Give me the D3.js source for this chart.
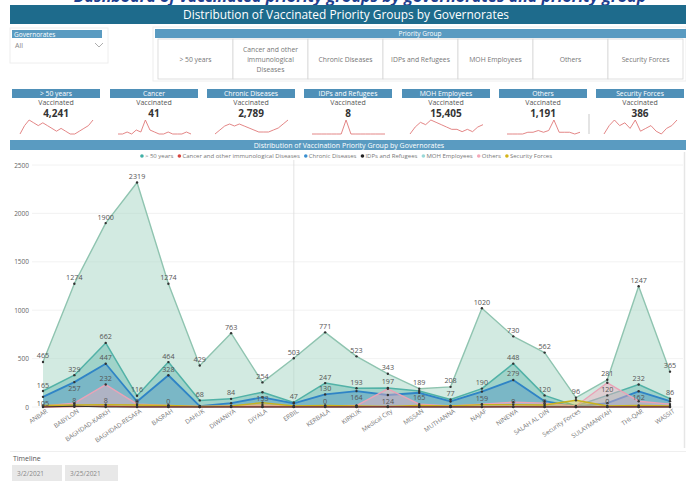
<!DOCTYPE html>
<html>
<head>
<meta charset="utf-8">
<script src="https://cdn.jsdelivr.net/npm/d3@7"></script>
<style>
  body { margin: 0; background: #fff; }
  svg { display: block; font-family: "Open Sans", "Noto Sans", sans-serif; }
</style>
</head>
<body>
<svg id="dash" width="686" height="483"></svg>
<script>
var governorates = ["ANBAR", "BABYLON", "BAGHDAD-KARKH", "BAGHDAD-RESAFA", "BASRAH", "DAHUK", "DIWANIYA",
    "DIYALA", "ERBIL", "KERBALA", "KIRKUK", "Medical City", "MISSAN", "MUTHANNA", "NAJAF", "NINEWA",
    "SALAH AL DIN", "Security Forces", "SULAYMANIYAH", "THI-QAR", "WASSIT"];

var moh      = [465, 1274, 1900, 2319, 1274, 429, 763, 254, 503, 771, 523, 343, 189, 208, 1020, 730, 562, 96, 281, 1247, 365];
var over50   = [165, 329, 662, 116, 464, 68, 84, 153, 47, 247, 193, 197, 165, 77, 190, 448, 120, 10, 120, 232, 86];
var chronic  = [105, 257, 447, 57, 328, 10, 40, 100, 37, 130, 164, 124, 147, 57, 159, 279, 60, 5, 40, 162, 60];
var others   = [10, 40, 232, 30, 15, 5, 10, 20, 5, 10, 15, 188, 30, 10, 30, 50, 40, 10, 250, 60, 30];
var security = [15, 20, 25, 20, 15, 5, 10, 45, 10, 15, 10, 5, 15, 10, 25, 25, 20, 70, 10, 15, 10];
var cancer   = [2, 3, 8, 2, 2, 0, 1, 2, 1, 2, 1, 3, 2, 1, 2, 3, 2, 0, 1, 2, 1];
var idps     = [0, 8, 0, 0, 0, 0, 0, 0, 0, 0, 0, 0, 0, 0, 0, 0, 0, 0, 0, 0, 0];

var yTicks = [0, 500, 1000, 1500, 2000, 2500];

var priorityGroups = ["> 50 years", "Cancer and other immunological Diseases", "Chronic Diseases",
    "IDPs and Refugees", "MOH Employees", "Others", "Security Forces"];

var cardTitles = ["> 50 years", "Cancer", "Chronic Diseases", "IDPs and Refugees", "MOH Employees", "Others", "Security Forces"];
var cardValues = [4241, 41, 2789, 8, 15405, 1191, 386];

// sparklines (shape over time)
var sparkOver50   = [3, 6, 8, 7, 6, 7, 6, 5, 4, 5, 4, 3, 3, 4, 5, 6, 8];
var sparkCancer   = [2, 2, 3, 2, 4, 3, 9, 4, 3, 2, 2, 3, 2, 2, 2, 3, 2];
var sparkChronic  = [2, 4, 6, 7, 6, 7, 6, 5, 4, 3, 3, 3, 4, 5, 7, 9];
var sparkIdps     = [0, 0, 0, 0, 0, 0, 0, 8, 0, 0, 0, 0, 0, 0, 0, 0];
var sparkMoh      = [2, 5, 7, 6, 8, 7, 6, 5, 4, 4, 3, 4, 3, 5, 6];
var sparkOthers   = [1, 1, 1, 1, 2, 2, 3, 2, 3, 9, 2, 2, 2, 1, 2];
var sparkSecurity = [3, 6, 8, 6, 7, 5, 8, 4, 5, 6, 4, 3, 5, 6, 8];

var timelineDates = ["3/2/2021", "3/25/2021"];

// ---- drawing ----
var svg = d3.select("#dash");
var darkBlue = "#1e6b8c", midBlue = "#5a9bc1";

// cropped heading at the very top (only its lower edge is inside the picture)
svg.append("text")
    .attr("x", 360).attr("y", 1.5)
    .attr("text-anchor", "middle")
    .style("font-size", "16px").style("font-style", "italic").style("font-weight", "bold")
    .style("fill", "#1f3f8f")
    .text("Dashboard of vaccinated priority groups by governorates and priority group");

svg.append("rect").attr("x", 10).attr("y", 5).attr("width", 676).attr("height", 19).attr("fill", darkBlue);
svg.append("text")
    .attr("x", 346).attr("y", 19)
    .attr("text-anchor", "middle")
    .attr("textLength", 326).attr("lengthAdjust", "spacingAndGlyphs")
    .style("font-size", "13px").style("fill", "#fff")
    .text("Distribution of Vaccinated Priority Groups by Governorates");

// governorate slicer
svg.append("rect").attr("x", 10).attr("y", 28).attr("width", 98).attr("height", 35)
    .attr("fill", "none").attr("stroke", "#eeeeee");
svg.append("rect").attr("x", 12).attr("y", 30).attr("width", 90).attr("height", 8).attr("fill", midBlue);
svg.append("text").attr("x", 14).attr("y", 36.5).style("font-size", "6.5px").style("fill", "#fff").text("Governorates");
svg.append("text").attr("x", 15).attr("y", 48).style("font-size", "7px").style("fill", "#888").text("All");
svg.append("path").attr("d", "M95,43 L99,47 L103,43").attr("fill", "none").attr("stroke", "#999").attr("stroke-width", 0.8);

// priority group buttons
svg.append("rect").attr("x", 153).attr("y", 27).attr("width", 533).attr("height", 54)
    .attr("fill", "none").attr("stroke", "#eeeeee");
svg.append("rect").attr("x", 155).attr("y", 29).attr("width", 531).attr("height", 9).attr("fill", midBlue);
svg.append("text").attr("x", 420).attr("y", 36).attr("text-anchor", "middle")
    .style("font-size", "6.5px").style("fill", "#fff").text("Priority Group");

var btnX = d3.scaleBand().domain(priorityGroups).range([158, 683]);
var btn = svg.selectAll(".btn").data(priorityGroups).enter().append("g").attr("class", "btn");
btn.append("rect")
    .attr("x", function (d) { return btnX(d); })
    .attr("y", 39).attr("width", btnX.bandwidth()).attr("height", 40)
    .attr("fill", "#fff").attr("stroke", "#d6d6d6").attr("stroke-width", 0.8);
btn.each(function (d) {
    var lines = d.length > 20 ? ["Cancer and other", "immunological", "Diseases"] : [d];
    var g = d3.select(this);
    var cx = btnX(d) + btnX.bandwidth() / 2;
    var y0 = 61.5 - (lines.length - 1) * 5;
    lines.forEach(function (l, i) {
        g.append("text").attr("x", cx).attr("y", y0 + i * 10)
            .attr("text-anchor", "middle")
            .style("font-size", "6.8px").style("fill", "#777").text(l);
    });
});

// KPI cards
var cardLeft = [12, 110, 207, 304, 402, 499, 596];
var sparks = [sparkOver50, sparkCancer, sparkChronic, sparkIdps, sparkMoh, sparkOthers, sparkSecurity];
var fmt = d3.format(",");

cardTitles.forEach(function (t, i) {
    var left = cardLeft[i];
    svg.append("rect").attr("x", left).attr("y", 89).attr("width", 88).attr("height", 9).attr("fill", "#4f90b8");
    svg.append("text").attr("x", left + 44).attr("y", 96).attr("text-anchor", "middle")
        .style("font-size", "6.8px").style("fill", "#fff").text(t);
    svg.append("text").attr("x", left + 44).attr("y", 105).attr("text-anchor", "middle")
        .style("font-size", "7px").style("fill", "#555").text("Vaccinated");
    svg.append("text").attr("x", left + 44).attr("y", 116.5).attr("text-anchor", "middle")
        .style("font-size", "10px").style("font-weight", "bold").style("fill", "#333").text(fmt(cardValues[i]));

    var s = sparks[i];
    var sx = d3.scaleLinear().domain([0, s.length - 1]).range([left + 8, left + 81]);
    var sy = d3.scaleLinear().domain(d3.extent(s)).range([134, 120]);
    svg.append("path")
        .attr("d", d3.line().x(function (d, j) { return sx(j); }).y(function (d) { return sy(d); })(s))
        .attr("fill", "none").attr("stroke", "#e07878").attr("stroke-width", 0.9);
});
svg.append("rect").attr("x", 588).attr("y", 114).attr("width", 2).attr("height", 20).attr("fill", "#e4e4e4");

// main chart header
svg.append("rect").attr("x", 10).attr("y", 140).attr("width", 676).attr("height", 10).attr("fill", midBlue);
svg.append("text").attr("x", 349).attr("y", 147.5).attr("text-anchor", "middle")
    .style("font-size", "7px").style("fill", "#fff")
    .text("Distribution of Vaccination Priority Group by Governorates");

// series in drawing order (back to front); minLabel = smallest value that gets a data label
var series = [
    {name: "MOH Employees", values: moh, line: "#8fc4b0", fill: "#a6d6c4", op: 0.5, w: 1.4, legend: "#9ad8d8", minLabel: 0},
    {name: "> 50 years", values: over50, line: "#52b2a7", fill: "#4faea3", op: 0.38, w: 1.5, legend: "#40b0a6", minLabel: 0},
    {name: "Chronic Diseases", values: chronic, line: "#2f84c6", fill: "#2f7fbf", op: 0.33, w: 1.8, legend: "#3a8fd0", minLabel: 30},
    {name: "Others", values: others, line: "#eaa3b7", fill: "#f0b0c2", op: 0.45, w: 1.4, legend: "#f4a8b8", minLabel: 100},
    {name: "Security Forces", values: security, line: "#c9b21c", fill: "#d8c030", op: 0.35, w: 1.4, legend: "#d4b41a", minLabel: 9999},
    {name: "Cancer and other immunological Diseases", values: cancer, line: "#d6453f", fill: "#d6453f", op: 0.3, w: 1.2, legend: "#d6453f", minLabel: 8},
    {name: "IDPs and Refugees", values: idps, line: "#333", fill: "#333", op: 0.2, w: 1, legend: "#222", minLabel: 0}
];
var legendOrder = ["> 50 years", "Cancer and other immunological Diseases", "Chronic Diseases",
    "IDPs and Refugees", "MOH Employees", "Others", "Security Forces"];

// legend
var legend = svg.append("g");
var lx = 0;
legendOrder.forEach(function (n) {
    var s = series.filter(function (d) { return d.name === n; })[0];
    var g = legend.append("g").attr("transform", "translate(" + lx + ",0)");
    g.append("circle").attr("cx", 2).attr("cy", -2).attr("r", 1.8).attr("fill", s.legend);
    var t = g.append("text").attr("x", 5).attr("y", 0).style("font-size", "6px").style("fill", "#777").text(n);
    lx += 5 + t.node().getComputedTextLength() + 4;
});
legend.attr("transform", "translate(" + (348 - lx / 2) + ",158)");

// scales and axes
var x = d3.scalePoint().domain(governorates).range([43, 670]);
var y = d3.scaleLinear().domain([0, 2500]).range([407, 165]);

var plot = svg.append("g");
plot.selectAll(".grid").data(yTicks).enter().append("line")
    .attr("x1", 32).attr("x2", 683)
    .attr("y1", function (d) { return y(d); }).attr("y2", function (d) { return y(d); })
    .attr("stroke", "#efefef").attr("stroke-width", 0.8);

var yAxis = plot.append("g").attr("transform", "translate(29,0)")
    .call(d3.axisLeft(y).tickValues(yTicks).tickFormat(d3.format("d")).tickSize(0).tickPadding(0));
yAxis.select(".domain").remove();
yAxis.selectAll("text").style("font-size", "6.5px").style("fill", "#666").style("font-family", "Open Sans");

// hover guide line at ERBIL
plot.append("line").attr("x1", x("ERBIL")).attr("x2", x("ERBIL")).attr("y1", 160).attr("y2", 407)
    .attr("stroke", "#dcdcdc").attr("stroke-width", 0.8);

var area = d3.area().x(function (d, i) { return x(governorates[i]); }).y0(y(0)).y1(function (d) { return y(d); });
var line = d3.line().x(function (d, i) { return x(governorates[i]); }).y(function (d) { return y(d); });

series.forEach(function (s) {
    plot.append("path").attr("d", area(s.values)).attr("fill", s.fill).attr("fill-opacity", s.op);
    plot.append("path").attr("d", line(s.values)).attr("fill", "none").attr("stroke", s.line)
        .attr("stroke-width", s.w).attr("stroke-linejoin", "round");
});

// point markers
series.forEach(function (s) {
    plot.selectAll(null).data(s.values).enter().append("circle")
        .attr("cx", function (d, i) { return x(governorates[i]); })
        .attr("cy", function (d) { return y(d); })
        .attr("r", 1.2).attr("fill", "#333");
});

// data labels, skip the ones that would collide (like Power BI does)
var placed = [];
function overlaps(b) {
    for (var k = 0; k < placed.length; k++) {
        var p = placed[k];
        if (b.x0 < p.x1 && b.x1 > p.x0 && b.y0 < p.y1 && b.y1 > p.y0) return true;
    }
    return false;
}
var labelOrder = [series[0], series[1], series[2], series[3], series[5], series[6]];
labelOrder.forEach(function (s) {
    s.values.forEach(function (v, i) {
        if (v < s.minLabel) return;
        var cx = x(governorates[i]), cy = y(v);
        var txt = String(v), w = txt.length * 4.4 + 1.5;
        var tries = [cy - 3.5, cy + 9];
        for (var t = 0; t < tries.length; t++) {
            var by = tries[t];
            if (by > 406) continue;
            var box = {x0: cx - w / 2, x1: cx + w / 2, y0: by - 8, y1: by + 2};
            if (!overlaps(box)) {
                placed.push(box);
                plot.append("text").attr("x", cx).attr("y", by).attr("text-anchor", "middle")
                    .style("font-size", "7.2px").style("fill", "#555").text(txt);
                break;
            }
        }
    });
});

// x axis labels
var xAxis = plot.append("g").attr("transform", "translate(0,409)")
    .call(d3.axisBottom(x).tickSize(0).tickPadding(0));
xAxis.select(".domain").remove();
xAxis.selectAll("text")
    .attr("x", 2).attr("y", 3).attr("dy", "0.35em")
    .attr("transform", "rotate(-34)")
    .style("text-anchor", "end")
    .style("font-size", "6.3px").style("fill", "#777").style("font-family", "Open Sans");

svg.append("line").attr("x1", 684.5).attr("x2", 684.5).attr("y1", 152).attr("y2", 448)
    .attr("stroke", "#e6e6e6").attr("stroke-width", 1.5);
svg.append("line").attr("x1", 10).attr("x2", 686).attr("y1", 451.5).attr("y2", 451.5)
    .attr("stroke", "#efefef");

// timeline slicer
svg.append("text").attr("x", 13).attr("y", 461).style("font-size", "7px").style("fill", "#555").text("Timeline");
var dateX = [12, 65], dateW = [50, 53];
timelineDates.forEach(function (d, i) {
    svg.append("rect").attr("x", dateX[i]).attr("y", 465).attr("width", dateW[i]).attr("height", 16).attr("fill", "#e8e8e8");
    svg.append("text").attr("x", dateX[i] + 5).attr("y", 475.5)
        .style("font-size", "6.5px").style("fill", "#888").text(d);
});
</script>
</body>
</html>
